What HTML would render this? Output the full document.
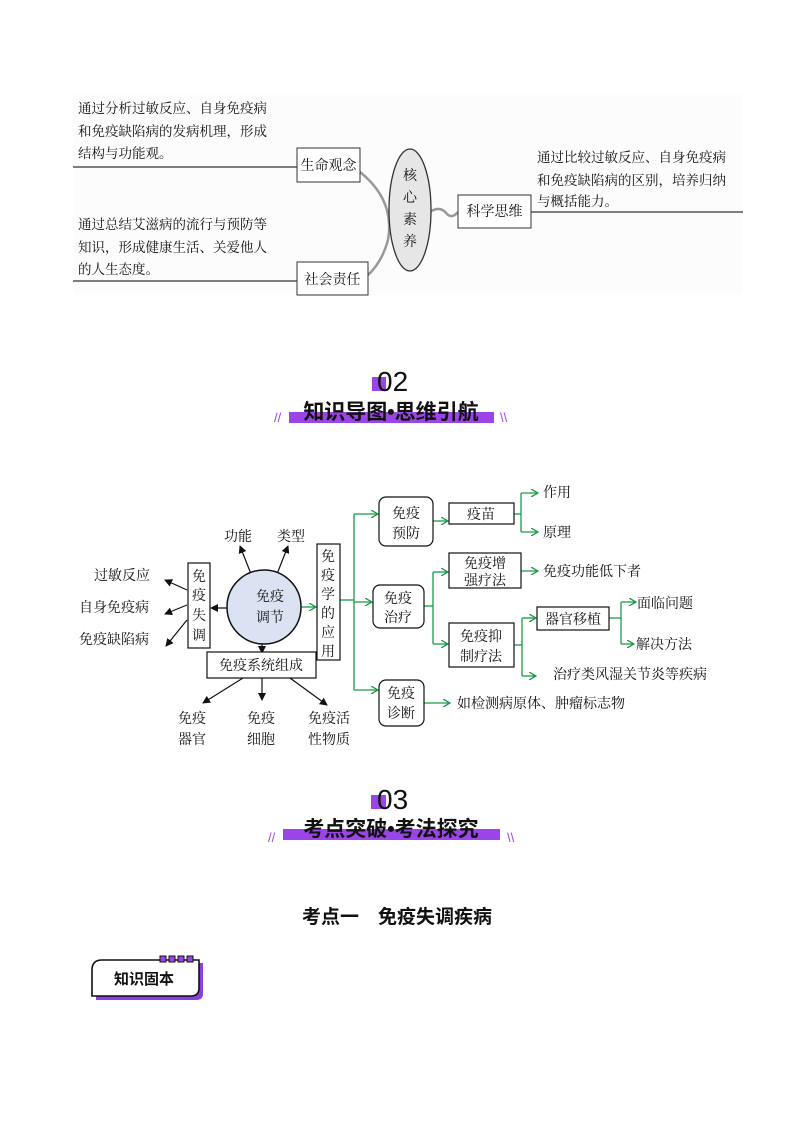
<!DOCTYPE html>
<html><head><meta charset="utf-8"><style>
html,body{margin:0;padding:0;background:#fff}
svg text{font-family:"Liberation Serif","Noto Serif CJK SC","Noto Sans CJK SC",serif;fill:#111}
.s{font-family:"Liberation Sans","Noto Sans CJK SC",sans-serif}
</style></head><body>
<svg width="794" height="1123" viewBox="0 0 794 1123" xmlns="http://www.w3.org/2000/svg">
<defs>
<marker id="g" markerWidth="8" markerHeight="8" refX="7" refY="4" orient="auto" markerUnits="userSpaceOnUse"><path d="M0,0 L7,4 L0,8" fill="none" stroke="#1a9a4a" stroke-width="1.3"/></marker>
<marker id="k" markerWidth="8" markerHeight="8" refX="7" refY="4" orient="auto" markerUnits="userSpaceOnUse"><path d="M0,0 L8,4 L0,8 z" fill="#111"/></marker>
</defs>
<!-- Top section -->
<rect x="73" y="95" width="670" height="200" fill="#fcfcfc"/>
<g font-size="13.5">
<text x="78" y="113">通过分析过敏反应、自身免疫病</text>
<text x="78" y="136">和免疫缺陷病的发病机理，形成</text>
<text x="78" y="158">结构与功能观。</text>
<text x="78" y="229">通过总结艾滋病的流行与预防等</text>
<text x="78" y="252">知识，形成健康生活、关爱他人</text>
<text x="78" y="274">的人生态度。</text>
<text x="537" y="162">通过比较过敏反应、自身免疫病</text>
<text x="537" y="185">和免疫缺陷病的区别，培养归纳</text>
<text x="537" y="206">与概括能力。</text>
</g>
<line x1="73" y1="167" x2="297" y2="167" stroke="#333" stroke-width="1.2"/>
<line x1="73" y1="281" x2="297" y2="281" stroke="#333" stroke-width="1.2"/>
<line x1="531" y1="212" x2="743" y2="212" stroke="#333" stroke-width="1.2"/>
<path d="M360,172 Q395,200 388,240 Q382,262 368,275" fill="none" stroke="#999" stroke-width="2.5"/>
<path d="M430,212 Q440,205 447,214 Q452,219 458,212" fill="none" stroke="#999" stroke-width="2.5"/>
<ellipse cx="410" cy="210" rx="21" ry="61" fill="#e6e6e6" stroke="#333" stroke-width="1.3"/>
<g font-size="14" text-anchor="middle"><text x="410" y="180">核</text><text x="410" y="202">心</text><text x="410" y="224">素</text><text x="410" y="246">养</text></g>
<rect x="297" y="148" width="63" height="34" fill="#fff" stroke="#333"/>
<text x="328.5" y="170" font-size="14" text-anchor="middle">生命观念</text>
<rect x="297" y="262" width="71" height="33" fill="#fff" stroke="#333"/>
<text x="332.5" y="284" font-size="14" text-anchor="middle">社会责任</text>
<rect x="458" y="195" width="73" height="33" fill="#fff" stroke="#333"/>
<text x="494.5" y="216" font-size="14" text-anchor="middle">科学思维</text>

<!-- Header 02 -->
<rect x="372" y="377" width="14" height="14" fill="#9b45e8"/>
<text x="377" y="391" font-size="28" class="s" style="font-weight:300">02</text>
<rect x="289" y="412" width="205" height="11" fill="#9b45e8"/>
<text x="391" y="419" font-size="21" font-weight="bold" text-anchor="middle" class="s">知识导图•思维引航</text>
<text x="274" y="422" font-size="13" class="s" style="fill:#9b45e8">//</text>
<text x="500" y="422" font-size="13" class="s" style="fill:#9b45e8">\\</text>

<!-- Mind map -->
<g stroke="#1a9a4a" stroke-width="1.3" fill="none">
<line x1="300" y1="607" x2="316" y2="607" marker-end="url(#g)"/>
<line x1="340" y1="600" x2="354" y2="600"/>
<line x1="354" y1="514" x2="354" y2="690"/>
<line x1="354" y1="514" x2="378" y2="514" marker-end="url(#g)"/>
<line x1="354" y1="602" x2="372" y2="602" marker-end="url(#g)"/>
<line x1="354" y1="690" x2="378" y2="690" marker-end="url(#g)"/>
<line x1="433" y1="521" x2="448" y2="521" marker-end="url(#g)"/>
<line x1="514" y1="514" x2="521" y2="514"/>
<path d="M521,493 V532"/>
<line x1="521" y1="493" x2="538" y2="493" marker-end="url(#g)"/>
<line x1="521" y1="532" x2="538" y2="532" marker-end="url(#g)"/>
<line x1="424" y1="606" x2="433" y2="606"/>
<path d="M433,572 V644"/>
<line x1="433" y1="572" x2="448" y2="572" marker-end="url(#g)"/>
<line x1="433" y1="644" x2="448" y2="644" marker-end="url(#g)"/>
<line x1="521" y1="571" x2="538" y2="571" marker-end="url(#g)"/>
<line x1="514" y1="645" x2="522" y2="645"/>
<path d="M522,618 V676"/>
<line x1="522" y1="618" x2="536" y2="618" marker-end="url(#g)"/>
<line x1="522" y1="676" x2="536" y2="676" marker-end="url(#g)"/>
<line x1="609" y1="618" x2="621" y2="618"/>
<path d="M621,602 V644"/>
<line x1="621" y1="602" x2="636" y2="602" marker-end="url(#g)"/>
<line x1="621" y1="644" x2="634" y2="644" marker-end="url(#g)"/>
<line x1="424" y1="703" x2="450" y2="703" marker-end="url(#g)"/>
</g>
<g stroke="#111" stroke-width="1.2">
<line x1="251" y1="574" x2="240" y2="546" marker-end="url(#k)"/>
<line x1="277" y1="574" x2="288" y2="546" marker-end="url(#k)"/>
<line x1="228" y1="608" x2="211" y2="608" marker-end="url(#k)"/>
<line x1="187" y1="590" x2="165" y2="580" marker-end="url(#k)"/>
<line x1="187" y1="605" x2="165" y2="614" marker-end="url(#k)"/>
<line x1="187" y1="620" x2="166" y2="646" marker-end="url(#k)"/>
<line x1="262" y1="644" x2="262" y2="653" marker-end="url(#k)"/>
<line x1="243" y1="678" x2="203" y2="703" marker-end="url(#k)"/>
<line x1="262" y1="678" x2="262" y2="700" marker-end="url(#k)"/>
<line x1="290" y1="678" x2="327" y2="705" marker-end="url(#k)"/>
</g>
<circle cx="264" cy="607" r="37" fill="#dbe3f3" stroke="#111" stroke-width="1.5"/>
<g font-size="14" text-anchor="middle"><text x="270" y="601">免疫</text><text x="270" y="622">调节</text></g>
<g fill="#fff" stroke="#111" stroke-width="1.2">
<rect x="188" y="563" width="22" height="85"/>
<rect x="317" y="544" width="23" height="116"/>
<rect x="207" y="652" width="109" height="26"/>
<rect x="379" y="497" width="54" height="49" rx="7"/>
<rect x="449" y="503" width="65" height="21"/>
<rect x="449" y="553" width="72" height="35"/>
<rect x="373" y="585" width="51" height="43" rx="7"/>
<rect x="537" y="607" width="72" height="23"/>
<rect x="449" y="623" width="65" height="44"/>
<rect x="379" y="680" width="45" height="46" rx="7"/>
</g>
<g font-size="14">
<g text-anchor="middle">
<text x="199" y="581">免</text><text x="199" y="600">疫</text><text x="199" y="620">失</text><text x="199" y="640">调</text>
<text x="328" y="561">免</text><text x="328" y="580">疫</text><text x="328" y="599">学</text><text x="328" y="618">的</text><text x="328" y="637">应</text><text x="328" y="656">用</text>
<text x="261" y="670">免疫系统组成</text>
<text x="406" y="518">免疫</text><text x="406" y="538">预防</text>
<text x="481" y="519">疫苗</text>
<text x="485" y="568">免疫增</text><text x="485" y="585">强疗法</text>
<text x="398" y="603">免疫</text><text x="398" y="622">治疗</text>
<text x="573" y="624">器官移植</text>
<text x="481" y="641">免疫抑</text><text x="481" y="661">制疗法</text>
<text x="401" y="698">免疫</text><text x="401" y="718">诊断</text>
<text x="192" y="723">免疫</text><text x="192" y="744">器官</text>
<text x="261" y="723">免疫</text><text x="261" y="744">细胞</text>
<text x="329" y="723">免疫活</text><text x="329" y="744">性物质</text>
</g>
<text x="224" y="541">功能</text><text x="277" y="541">类型</text>
<text x="94" y="580">过敏反应</text>
<text x="79" y="612">自身免疫病</text>
<text x="79" y="644">免疫缺陷病</text>
<text x="543" y="497">作用</text>
<text x="543" y="537">原理</text>
<text x="543" y="576">免疫功能低下者</text>
<text x="637" y="608">面临问题</text>
<text x="636" y="649">解决方法</text>
<text x="553" y="679">治疗类风湿关节炎等疾病</text>
<text x="457" y="708">如检测病原体、肿瘤标志物</text>
</g>

<!-- Header 03 -->
<rect x="371" y="795" width="15" height="14" fill="#9b45e8"/>
<text x="377" y="809" font-size="28" class="s" style="font-weight:300">03</text>
<rect x="283" y="829" width="217" height="11" fill="#9b45e8"/>
<text x="391" y="836" font-size="21" font-weight="bold" text-anchor="middle" class="s">考点突破•考法探究</text>
<text x="268" y="842" font-size="13" class="s" style="fill:#9b45e8">//</text>
<text x="507" y="842" font-size="13" class="s" style="fill:#9b45e8">\\</text>

<text x="397" y="923" font-size="19" font-weight="bold" text-anchor="middle" class="s">考点一　免疫失调疾病</text>

<!-- badge -->
<path d="M96,972 Q96,963 106,963 L203,963 L203,994 Q203,1000 196,1000 L96,1000 Z" fill="#8a3fe0"/>
<path d="M92,970 Q92,960 102,960 L199,960 L199,988 Q199,996 191,996 L92,996 Z" fill="#fff" stroke="#111" stroke-width="1.6"/>
<g fill="#9b45e8" stroke="#111" stroke-width="1"><rect x="160" y="956" width="6" height="6"/><rect x="169" y="956" width="6" height="6"/><rect x="178" y="956" width="6" height="6"/><rect x="187" y="956" width="6" height="6"/></g>
<text x="144" y="984" font-size="15" font-weight="bold" text-anchor="middle" class="s">知识固本</text>
</svg>
</body></html>
